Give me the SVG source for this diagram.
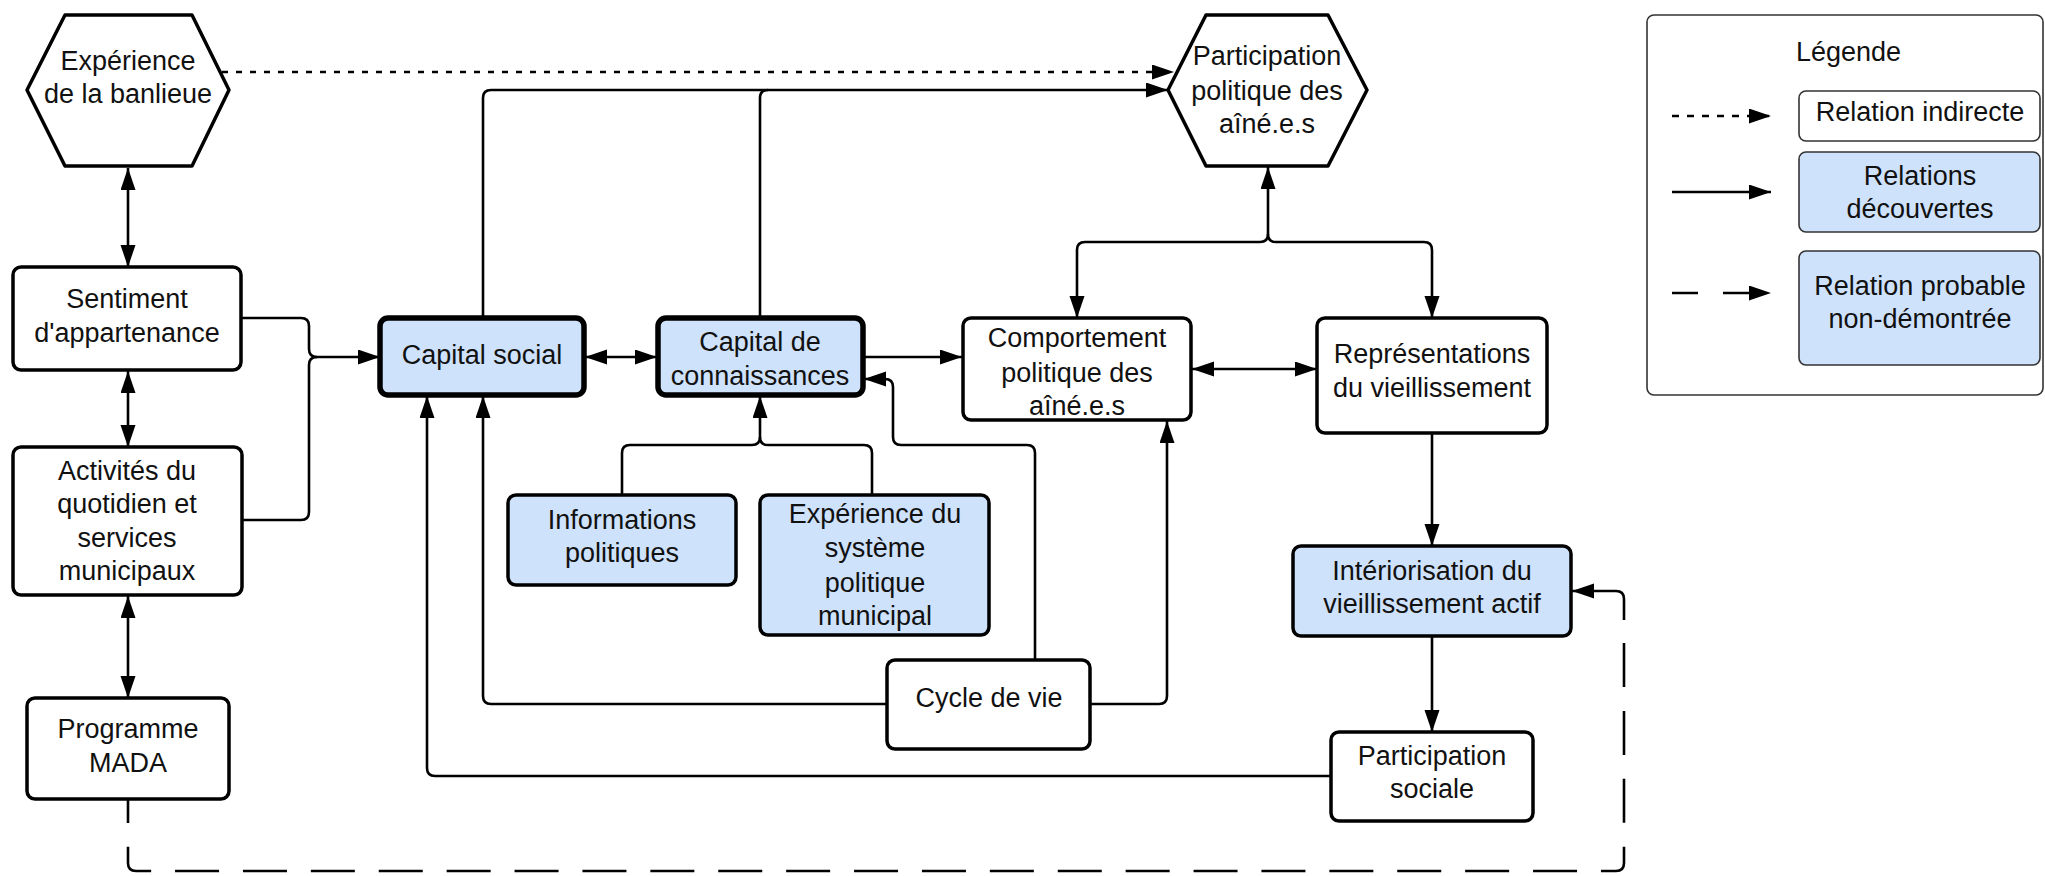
<svg xmlns="http://www.w3.org/2000/svg" width="2045" height="876" viewBox="0 0 2045 876">
<defs>
<marker id="ah" markerUnits="userSpaceOnUse" markerWidth="24" markerHeight="16" refX="22" refY="7.5" orient="auto-start-reverse"><path d="M0,0 L22,7.5 L0,15 z" fill="#000"/></marker>
<style>
.n{fill:#fff;stroke:#000;stroke-width:3.5;stroke-linejoin:round}
.b{fill:#cfe2fc;stroke:#000;stroke-width:3.5}
.bb{fill:#cfe2fc;stroke:#000;stroke-width:5.5}
.lg{fill:#fff;stroke:#333;stroke-width:1.6}
.lb{fill:#cfe2fc;stroke:#333;stroke-width:1.6}
.c{fill:none;stroke:#000;stroke-width:2.6}
.e{marker-end:url(#ah)}
.s{marker-start:url(#ah)}
.dot{stroke-dasharray:6 8}
.dash{stroke-dasharray:44 23.9}
text{font-family:"Liberation Sans",Arial,sans-serif;font-size:27px;fill:#111;text-anchor:middle}
</style>
</defs>
<rect width="2045" height="876" fill="#fff"/>

<g id="legend">
<rect x="1647" y="15" width="396" height="380" rx="7" class="lg"/>
<text x="1796" y="61" style="text-anchor:start">Légende</text>
<rect x="1799" y="91" width="241" height="50" rx="7" class="lg"/>
<text x="1920" y="121">Relation indirecte</text>
<rect x="1799" y="152" width="241" height="80" rx="7" class="lb"/>
<text x="1920" y="185">Relations</text>
<text x="1920" y="218">découvertes</text>
<rect x="1799" y="251" width="241" height="114" rx="7" class="lb"/>
<text x="1920" y="295">Relation probable</text>
<text x="1920" y="328">non-démontrée</text>
<path d="M1672,116 H1771" class="c e" style="stroke-dasharray:7 8"/>
<path d="M1672,192 H1771" class="c e"/>
<path d="M1672,293 H1771" class="c e" style="stroke-dasharray:26 25"/>
</g>

<g id="connectors">
<path d="M222,72 H1174" class="c e dot"/>
<path d="M128,168 V267" class="c s e"/>
<path d="M128,371 V447" class="c s e"/>
<path d="M128,596 V698" class="c s e"/>
<path d="M242,318 H301 Q309,318 309,326 V349 Q309,357 317,357 H380" class="c e"/>
<path d="M242,520 H301 Q309,520 309,512 V365 Q309,357 317,357" class="c"/>
<path d="M585,357 H657" class="c s e"/>
<path d="M483,317 V98 Q483,90 491,90 H1168" class="c e"/>
<path d="M760,317 V98 Q760,90 768,90" class="c"/>
<path d="M864,357 H962" class="c e"/>
<path d="M622,495 V453 Q622,445 630,445 H752 Q760,445 760,437 V396" class="c e"/>
<path d="M872,495 V453 Q872,445 864,445 H768 Q760,445 760,437" class="c"/>
<path d="M1035,660 V453 Q1035,445 1027,445 H901 Q893,445 893,437 V387 Q893,379 885,379 H864" class="c e"/>
<path d="M887,704 H491 Q483,704 483,696 V396" class="c e"/>
<path d="M1090,704 H1159 Q1167,704 1167,696 V421" class="c e"/>
<path d="M1331,776 H435 Q427,776 427,768 V396" class="c e"/>
<path d="M1192,369 H1317" class="c s e"/>
<path d="M1077,318 V250 Q1077,242 1085,242 H1260 Q1268,242 1268,234 V167" class="c s e"/>
<path d="M1432,318 V250 Q1432,242 1424,242 H1276 Q1268,242 1268,234" class="c s"/>
<path d="M1432,433 V546" class="c e"/>
<path d="M1432,637 V732" class="c e"/>
<path d="M1624,643 V863 Q1624,871 1616,871 H136 Q128,871 128,863 V799" class="c dash"/>
<path d="M1624,620 V599 Q1624,591 1616,591 H1572" class="c e"/>
</g>

<g id="experience-banlieue">
<polygon points="27,90 65,15 192,15 229,90 192,166 65,166" class="n"/>
<text x="128" y="70">Expérience</text>
<text x="128" y="103">de la banlieue</text>
</g>

<g id="participation-politique">
<polygon points="1168,90 1206,15 1328,15 1367,90 1328,166 1206,166" class="n"/>
<text x="1267" y="65">Participation</text>
<text x="1267" y="100">politique des</text>
<text x="1267" y="133">aîné.e.s</text>
</g>

<g id="sentiment">
<rect x="13" y="267" width="228" height="103" rx="8" class="n"/>
<text x="127" y="308">Sentiment</text>
<text x="127" y="342">d'appartenance</text>
</g>

<g id="activites">
<rect x="13" y="447" width="229" height="148" rx="8" class="n"/>
<text x="127" y="480">Activités du</text>
<text x="127" y="513">quotidien et</text>
<text x="127" y="547">services</text>
<text x="127" y="580">municipaux</text>
</g>

<g id="mada">
<rect x="27" y="698" width="202" height="101" rx="8" class="n"/>
<text x="128" y="738">Programme</text>
<text x="128" y="772">MADA</text>
</g>

<g id="capital-social">
<rect x="380" y="318" width="204" height="77" rx="8" class="bb"/>
<text x="482" y="364">Capital social</text>
</g>

<g id="capital-connaissances">
<rect x="658" y="318" width="205" height="77" rx="8" class="bb"/>
<text x="760" y="351">Capital de</text>
<text x="760" y="385">connaissances</text>
</g>

<g id="comportement">
<rect x="963" y="318" width="228" height="102" rx="8" class="n"/>
<text x="1077" y="347">Comportement</text>
<text x="1077" y="382">politique des</text>
<text x="1077" y="415">aîné.e.s</text>
</g>

<g id="representations">
<rect x="1317" y="318" width="230" height="115" rx="8" class="n"/>
<text x="1432" y="363">Représentations</text>
<text x="1432" y="397">du vieillissement</text>
</g>

<g id="informations">
<rect x="508" y="495" width="228" height="90" rx="8" class="b"/>
<text x="622" y="529">Informations</text>
<text x="622" y="562">politiques</text>
</g>

<g id="experience-systeme">
<rect x="760" y="495" width="229" height="140" rx="8" class="b"/>
<text x="875" y="523">Expérience du</text>
<text x="875" y="557">système</text>
<text x="875" y="592">politique</text>
<text x="875" y="625">municipal</text>
</g>

<g id="cycle-vie">
<rect x="887" y="660" width="203" height="89" rx="8" class="n"/>
<text x="989" y="707">Cycle de vie</text>
</g>

<g id="interiorisation">
<rect x="1293" y="546" width="278" height="90" rx="8" class="b"/>
<text x="1432" y="580">Intériorisation du</text>
<text x="1432" y="613">vieillissement actif</text>
</g>

<g id="participation-sociale">
<rect x="1331" y="732" width="202" height="89" rx="8" class="n"/>
<text x="1432" y="765">Participation</text>
<text x="1432" y="798">sociale</text>
</g>
</svg>
